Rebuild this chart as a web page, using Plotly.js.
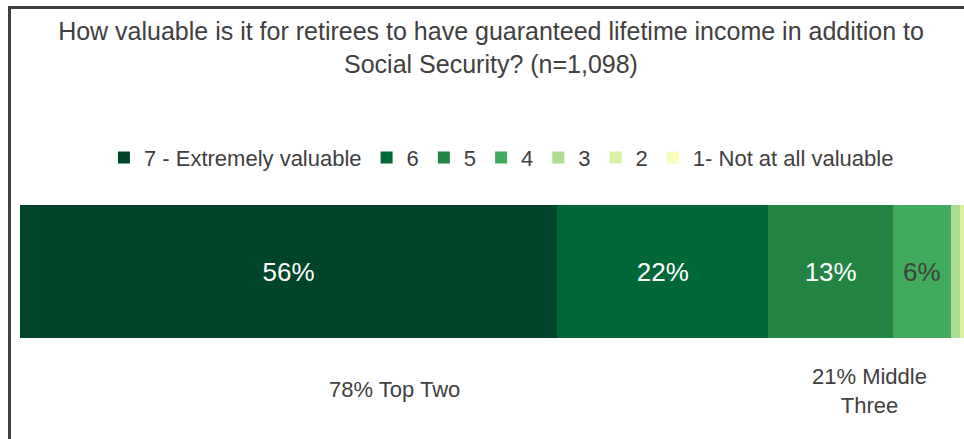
<!DOCTYPE html>
<html>
<head>
<meta charset="utf-8">
<script src="https://cdn.plot.ly/plotly-3.0.1.min.js"></script>
<style>
  html, body { margin: 0; padding: 0; background: #fff; overflow: hidden; }
  #wrap { position: relative; width: 964px; height: 439px; }
  #chart { position: absolute; left: 0; top: 0; width: 964px; height: 439px; }
  #frame { position: absolute; left: 8px; top: 6px; width: 970px; height: 450px;
           border-left: 3px solid #404040; border-top: 3px solid #404040; pointer-events: none; }
</style>
</head>
<body>
<div id="wrap">
  <div id="chart"></div>
  <div id="frame"></div>
</div>
<script>
const categories = ["7 - Extremely valuable", "6", "5", "4", "3", "2", "1- Not at all valuable"];
const values = [56, 22, 13, 6, 1, 1, 1];
const colors = ["#004529", "#006837", "#238443", "#41ab5d", "#addd8e", "#d9f0a3", "#f7fcb9"];
const textColors = ["#ffffff", "#ffffff", "#ffffff", "#404040", "#404040", "#404040", "#404040"];
const groupLabels = ["78% Top Two", "21% Middle<br>Three"];
const groupCenters = [39, 88.5];

const traces = categories.map((name, i) => ({
  type: "bar",
  orientation: "h",
  name: name,
  x: [values[i]],
  y: ["Q"],
  width: 1,
  marker: { color: colors[i], line: { width: 0 } },
  text: [values[i] >= 5 ? values[i] + "%" : ""],
  textposition: "inside",
  insidetextanchor: "middle",
  textangle: 0,
  constraintext: "none",
  textfont: { family: "Liberation Sans, Arial, sans-serif", size: 26, color: textColors[i] },
  hoverinfo: "skip"
}));

const font = { family: "Liberation Sans, Arial, sans-serif", color: "#404040" };

const layout = {
  width: 964,
  height: 439,
  margin: { l: 20, r: 0, t: 205, b: 101, pad: 0 },
  paper_bgcolor: "#ffffff",
  plot_bgcolor: "#ffffff",
  barmode: "stack",
  bargap: 0,
  showlegend: true,
  font: font,
  title: {
    text: "How valuable is it for retirees to have guaranteed lifetime income in addition to<br>Social Security? (n=1,098)",
    font: { family: font.family, color: "#404040", size: 25 },
    x: 491 / 964, xref: "container", xanchor: "center",
    y: 1 - 40 / 439, yref: "container", yanchor: "top"
  },
  legend: {
    orientation: "h",
    x: 0.51, xanchor: "center",
    y: 1.355, yanchor: "middle",
    traceorder: "normal",
    font: { family: font.family, color: "#404040", size: 22 },
    itemwidth: 30,
    bgcolor: "rgba(0,0,0,0)"
  },
  xaxis: { range: [0, 98.4], visible: false, fixedrange: true },
  yaxis: { range: [-0.5, 0.5], visible: false, fixedrange: true },
  annotations: groupLabels.map((t, i) => ({
    text: t,
    x: groupCenters[i], xref: "x",
    y: i === 0 ? -0.39 : -0.4, yref: "paper",
    xanchor: "center", yanchor: "middle",
    showarrow: false,
    font: { family: font.family, color: "#404040", size: 22 }
  }))
};

Plotly.newPlot("chart", traces, layout, { displayModeBar: false, staticPlot: true });
</script>
</body>
</html>
